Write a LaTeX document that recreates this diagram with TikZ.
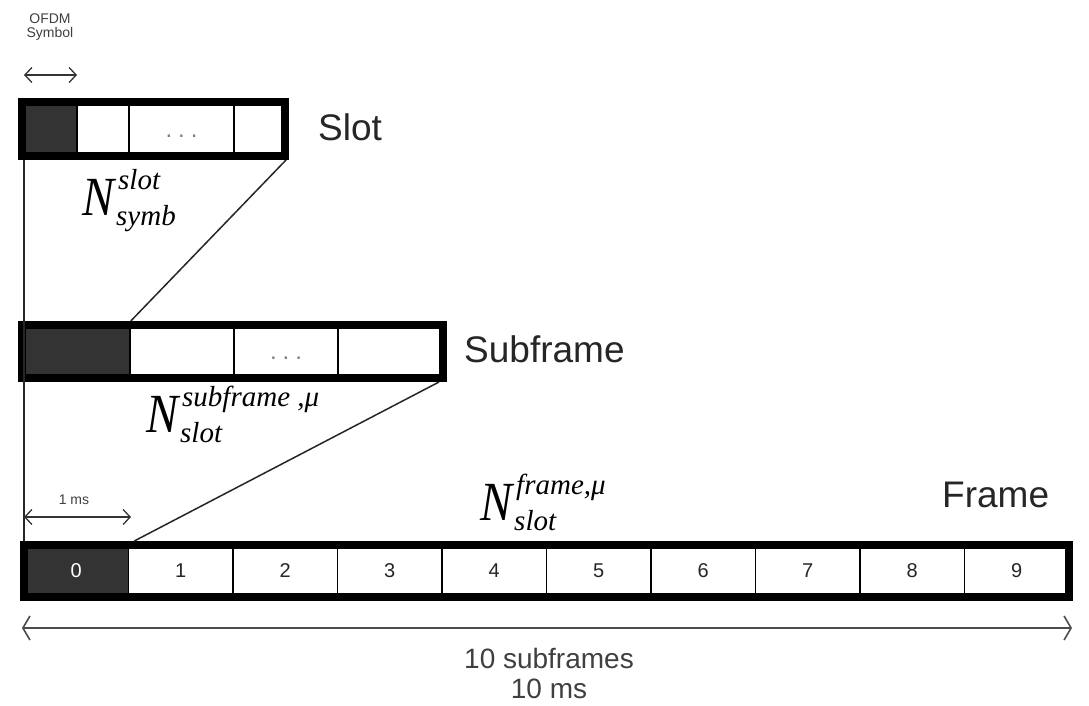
\documentclass[tikz,border=0pt]{standalone}
\usepackage{fontspec}
\usepackage{graphicx}
\setmainfont{Liberation Sans}
\newfontfamily\tnr{Liberation Serif}
\usetikzlibrary{arrows.meta,calc}

% N with a superscript and a subscript, set in an italic serif
\newcommand{\Nsym}[2]{{\tnr\itshape
  \scalebox{1}[1.15]{\fontsize{48}{48}\selectfont N}\kern4pt%
  \makebox[0pt][l]{\raisebox{26pt}{\fontsize{29}{29}\selectfont #1}}%
  \kern-2pt\raisebox{-10pt}{\fontsize{29}{29}\selectfont #2}}}

\tikzset{
  box/.style={draw=black, line width=8pt, rectangle, inner sep=0pt},
  cell/.style={draw=black, line width=1.6pt, rectangle, inner sep=0pt, fill=white},
  darkcell/.style={cell, fill=black!80},
  num/.style={font=\fontsize{20}{20}\selectfont, text=black!85},
  dots/.style={inner sep=0pt, font=\fontsize{24}{24}\selectfont, text=black!50},
  title/.style={inner sep=0pt, anchor=base west, text=black!85},
  conn/.style={line width=1.5pt, black!85},
  dim/.style={line width=1.3pt, black!80,
    {Straight Barb[length=7pt,width=15pt]}-{Straight Barb[length=7pt,width=15pt]}},
  bigdim/.style={line width=1.6pt, black!70,
    {Straight Barb[length=7pt,width=24pt]}-{Straight Barb[length=7pt,width=24pt]}},
  small/.style={inner sep=0pt, font=\fontsize{14}{15}\selectfont, text=black!75},
}

\begin{document}
\begin{tikzpicture}[x=1pt, y=-1pt]
\useasboundingbox (0,0) rectangle (1089,706);
\fill[white] (0,0) rectangle (1089,706);

% ---------------- Slot ----------------
\node[darkcell, minimum width=55pt,  minimum height=54pt] (s0) at (49.5,129) {};
\node[cell,     minimum width=52pt,  minimum height=54pt] (s1) at (103,129) {};
\node[cell,     minimum width=105pt, minimum height=54pt] (s2) at (181.5,129) {};
\node[cell,     minimum width=51pt,  minimum height=54pt] (s3) at (259.5,129) {};
\node[dots] (s2dots) at ($(s2.center)+(0,7)$) {.\kern6pt.\kern6pt.};
\node[box, minimum width=263pt, minimum height=54pt] (slotbox) at (153.5,129) {};
\node[title, font=\fontsize{37}{37}\selectfont] (slotlbl) at (318,140) {Slot};
\node[inner sep=0pt, anchor=base west] (nslot) at (82,215) {\Nsym{slot}{symb}};

% ---------------- Subframe ----------------
\node[darkcell, minimum width=108pt, minimum height=53pt] (u0) at (76,351.5) {};
\node[cell,     minimum width=104pt, minimum height=53pt] (u1) at (182,351.5) {};
\node[cell,     minimum width=104pt, minimum height=53pt] (u2) at (286,351.5) {};
\node[cell,     minimum width=105pt, minimum height=53pt] (u3) at (390.5,351.5) {};
\node[dots] (u2dots) at ($(u2.center)+(0,7)$) {.\kern6pt.\kern6pt.};
\node[box, minimum width=421pt, minimum height=53pt] (subbox) at (232.5,351.5) {};
\node[title, font=\fontsize{37}{37}\selectfont] (sublbl) at (464,362) {Subframe};
\node[inner sep=0pt, anchor=base west] (nsub) at (146,432) {\Nsym{subframe ,μ}{slot}};

% ---------------- Frame ----------------
\foreach \i in {0,...,9}{
  \ifnum\i=0
    \node[darkcell, minimum width=104.5pt, minimum height=52pt] (f\i) at ({24+104.5*(\i+0.5)},571) {};
    \node[num, text=white] (n\i) at (f\i) {\i};
  \else
    \node[cell, minimum width=104.5pt, minimum height=52pt] (f\i) at ({24+104.5*(\i+0.5)},571) {};
    \node[num] (n\i) at (f\i) {\i};
  \fi
}
\node[box, minimum width=1045pt, minimum height=52pt] (framebox) at (546.5,571) {};
\node[title, font=\fontsize{37}{37}\selectfont] (framelbl) at (942,507) {Frame};
\node[inner sep=0pt, anchor=base west] (nframe) at (480,520) {\Nsym{frame,μ}{slot}};

% ---------------- Connectors ----------------
\draw[conn] ([xshift=6pt]slotbox.south west) -- ([xshift=4pt]framebox.north west);
\draw[conn] ([xshift=-3pt]slotbox.south east) -- (u0.east |- subbox.north);
\draw[conn] ([xshift=-8pt]subbox.south east) -- ([xshift=5pt]f0.east |- framebox.north);

% ---------------- Dimensions ----------------
\node[small] (ofdm) at (50,19) {OFDM};
\node[small] (symbol) at (50,34) {Symbol};
\coordinate (oL) at (24,75);
\coordinate (oR) at (77,75);
\draw[dim] (oL) -- (oR);

\node[small] (onems) at (74,500) {1 ms};
\coordinate (mL) at (24,517);
\coordinate (mR) at (131,517);
\draw[dim] (mL) -- (mR);

\coordinate (tL) at (22,628);
\coordinate (tR) at (1072,628);
\draw[bigdim] (tL) -- (tR);
\node[inner sep=0pt, font=\fontsize{28}{28}\selectfont, text=black!75] (tensub) at (549,658) {10 subframes};
\node[inner sep=0pt, font=\fontsize{28}{28}\selectfont, text=black!75] (tenms) at (549,689) {10 ms};
\end{tikzpicture}
\end{document}
